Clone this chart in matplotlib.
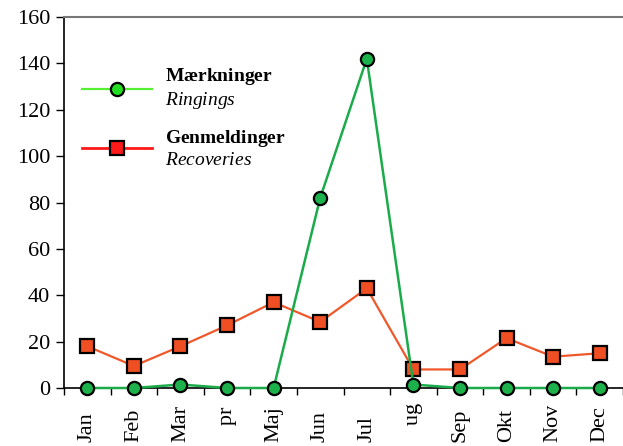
import numpy as np
import matplotlib
matplotlib.use('Agg')
import matplotlib.pyplot as plt
from matplotlib.lines import Line2D
import matplotlib.transforms as mtransforms

plt.rcParams['font.family'] = ['Liberation Serif', 'DejaVu Serif']
plt.rcParams['mathtext.fontset'] = 'custom'
plt.rcParams['mathtext.rm'] = 'Liberation Serif'
plt.rcParams['mathtext.it'] = 'Liberation Serif:italic'
plt.rcParams['mathtext.bf'] = 'Liberation Serif:bold'

# "pr" and "ug" are the truncated labels of the original; leading spaces keep the gap of the lost letter
months = ['Jan', 'Feb', 'Mar', '   pr', 'Maj', 'Jun', 'Jul', '   ug', 'Sep', 'Okt', 'Nov', 'Dec']
ringings = [0, 0, 1.5, 0, 0, 82, 142, 1.5, 0, 0, 0, 0]
recoveries = [18, 9.5, 18, 27, 37, 28.5, 43, 8, 8, 21.5, 13.5, 15]
yticks = [0, 20, 40, 60, 80, 100, 120, 140, 160]

fig = plt.figure(figsize=(6.23, 4.46), dpi=100)
ax = fig.add_axes([64 / 623, 58 / 446, 1 - 64 / 623, 371 / 446])

x = np.arange(len(months))
ax.plot(x, recoveries, color='#f0582a', lw=1.6, marker='s', ms=9.5,
        mfc='#f04e23', mec='black', mew=1.6, zorder=3, clip_on=False)
ax.plot(x, ringings, color='#1aab4a', lw=1.8, marker='o', ms=9.5,
        mfc='#1db14b', mec='black', mew=1.6, zorder=4, clip_on=False)

ax.set_xlim(-0.5, (623 - 64) / 46.9 - 0.5)
ax.set_ylim(0, 160)
ax.set_yticks(yticks)
ax.set_xticks(np.arange(len(months) + 1) - 0.5)
ax.set_xticklabels([])
ax.tick_params(axis='x', length=5, width=1, direction='out')
ax.tick_params(axis='y', labelsize=16, length=6, width=1, pad=4)

# month labels, anchored at the bottom of the figure
trans = mtransforms.blended_transform_factory(ax.transData, fig.transFigure)
for xi, m in zip(x, months):
    ax.text(xi, 4 / 446, m, transform=trans, rotation=90, fontsize=16,
            ha='center', va='bottom')

ax.spines['right'].set_visible(False)
ax.spines['top'].set_color('#777777')
ax.spines['top'].set_linewidth(1.5)
for s in ['left', 'bottom']:
    ax.spines[s].set_linewidth(1.2)

handles = [
    Line2D([], [], color='#55ee33', lw=1.6, marker='o', ms=9.5,
           mfc='#22dd22', mec='black', mew=1.6),
    Line2D([], [], color='#ff1a1a', lw=2, marker='s', ms=9.5,
           mfc='#ff1a1a', mec='black', mew=1.6),
]
labels = [r'$\bf{Mærkninger}$' + '\n' + r'$\it{Ringings}$',
          r'$\bf{Genmeldinger}$' + '\n' + r'$\it{Recoveries}$']
ax.legend(handles, labels, loc='upper left', bbox_to_anchor=(0.0, 0.914),
          frameon=False, fontsize=14, handlelength=3.6, handletextpad=0.67,
          labelspacing=0.86)

fig.savefig('out.png', dpi=100)
